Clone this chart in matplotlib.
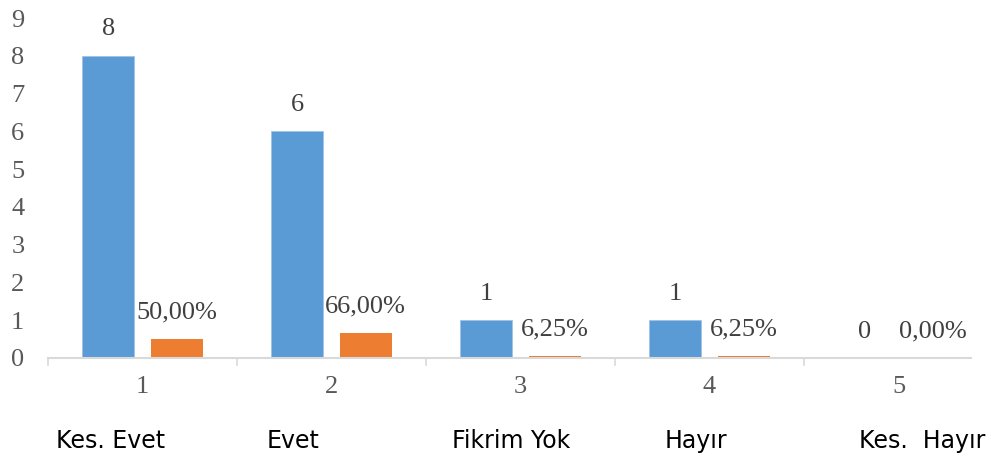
import matplotlib
matplotlib.use("Agg")
import matplotlib.pyplot as plt
import numpy as np

categories = ["1", "2", "3", "4", "5"]
answer_labels = ["Kes. Evet", "Evet", "Fikrim Yok", "Hayır", "Kes.  Hayır"]
counts = [8, 6, 1, 1, 0]
ratios = [0.50, 0.66, 0.0625, 0.0625, 0.0]
ratio_labels = ["50,00%", "66,00%", "6,25%", "6,25%", "0,00%"]
answer_label_x = [111, 293, 511, 696, 922]  # pixel centers of bottom labels

W, H = 991, 459
fig = plt.figure(figsize=(W / 100, H / 100), dpi=100)
ax = fig.add_axes([48 / W, (H - 358) / H, (971 - 48) / W, 340 / H])

blue = "#5B9BD5"
orange = "#ED7D31"
serif = "Liberation Serif"
grey = "#595959"
fs = 19

x = np.arange(1, len(categories) + 1)
bw = 0.275
off = 0.18
ax.bar(x - off, counts, bw, color=blue, edgecolor="#9DC3E6", linewidth=0.6)
ax.bar(x + off, ratios, bw, color=orange)

for xi, c in zip(x, counts):
    ax.annotate(str(c), (xi - off, c), xytext=(0, 19), textcoords="offset points",
                ha="center", va="center", fontsize=fs, family=serif, color="#404040")
for xi, r, lab in zip(x, ratios, ratio_labels):
    ax.annotate(lab, (xi + off, r), xytext=(0, 19), textcoords="offset points",
                ha="center", va="center", fontsize=fs, family=serif, color="#404040")

ax.set_ylim(0, 9)
ax.set_xlim(0.5, 5.5 - (993 - 971) / 189)
ax.set_yticks(range(0, 10))
ax.set_yticklabels([str(i) for i in range(10)], family=serif, fontsize=fs, color=grey)
ax.tick_params(axis="y", length=0, pad=17)

ax.set_xticks(x)
ax.set_xticklabels(categories, family=serif, fontsize=fs, color=grey)
ax.tick_params(axis="x", length=0, pad=13)
# boundary tick marks
for b in np.arange(0.5, 5.5, 1.0):
    ax.plot([b, b], [0, -0.18], color="#D9D9D9", lw=1.2, clip_on=False)

for s in ["top", "right", "left"]:
    ax.spines[s].set_visible(False)
ax.spines["bottom"].set_color("#D9D9D9")
ax.spines["bottom"].set_linewidth(1.5)

for lab, px in zip(answer_labels, answer_label_x):
    fig.text(px / W, 1 - 441 / H, lab, ha="center", va="center",
             fontsize=17, family="DejaVu Sans", color="black")

fig.savefig("out.png", dpi=100)
